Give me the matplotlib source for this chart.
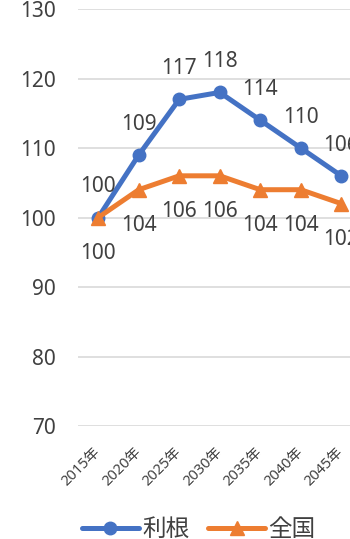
import matplotlib
matplotlib.use("Agg")
from matplotlib import pyplot as plt
from matplotlib import transforms

plt.rcParams['font.family'] = ['Noto Sans', 'Noto Sans CJK JP', 'DejaVu Sans']

years = ["2015年", "2020年", "2025年", "2030年", "2035年", "2040年", "2045年"]
tone = [100, 109, 117, 118, 114, 110, 106]
national = [100, 104, 106, 106, 104, 104, 102]

BLUE = "#4472C4"
ORANGE = "#ED7D31"
TEXT = "#404040"

fig = plt.figure(figsize=(3.5, 5.39), dpi=100)
# plot area runs past the right edge, like the clipped original
ax = fig.add_axes([78 / 350, 0.2096, 324 / 350, 0.9833 - 0.2096])

x = list(range(len(years)))
ax.plot(x, tone, color=BLUE, lw=3.6, marker="o", ms=9, label="利根",
        solid_capstyle="round", zorder=3)
ax.plot(x, national, color=ORANGE, lw=3.6, marker="^", ms=10, label="全国",
        solid_capstyle="round", zorder=3)

for i, v in enumerate(tone):
    ax.annotate(str(v), (i, v), xytext=(0, 22), textcoords="offset points",
                ha="center", va="center", fontsize=15, color=TEXT)
for i, v in enumerate(national):
    ax.annotate(str(v), (i, v), xytext=(0, -26), textcoords="offset points",
                ha="center", va="center", fontsize=15, color=TEXT)

ax.set_ylim(70, 130)
ax.set_yticks(range(70, 131, 10))
ax.set_xlim(-0.5, 7.5)
ax.set_xticks(x)
ax.set_xticklabels(years, rotation=45, ha="right", va="center",
                   rotation_mode="anchor", fontsize=10.5, color=TEXT)
shift = transforms.ScaledTranslation(-3 / 72, 0, fig.dpi_scale_trans)
for lab in ax.get_xticklabels():
    lab.set_transform(lab.get_transform() + shift)
ax.tick_params(axis="y", length=0, pad=16, labelsize=15, labelcolor=TEXT)
ax.tick_params(axis="x", length=0, pad=17)
ax.grid(axis="y", color="#D9D9D9", lw=1.2)
ax.set_axisbelow(True)
for s in ax.spines.values():
    s.set_visible(False)

leg = fig.legend(loc="lower center", bbox_to_anchor=(199 / 350, -0.045), ncol=2,
                 frameon=False, fontsize=17, handlelength=2.4,
                 columnspacing=0.8, handletextpad=0.15)
for t in leg.get_texts():
    t.set_color(TEXT)

fig.savefig("out.png", dpi=100)
